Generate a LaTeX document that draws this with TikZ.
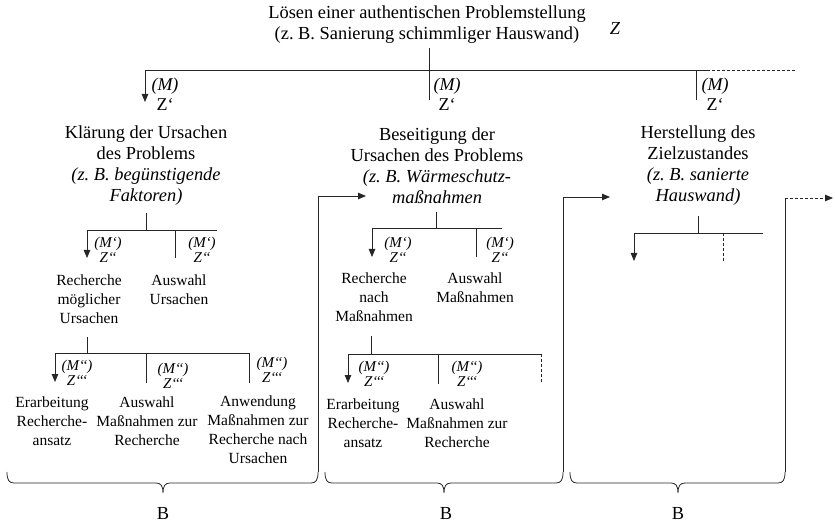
\documentclass[tikz,border=0pt]{standalone}
\usepackage{fontspec}
\setmainfont{Liberation Serif}
\usetikzlibrary{arrows.meta}
\newcommand\bigtxt{\fontsize{18.4bp}{21bp}\selectfont}
\newcommand\smalltxt{\fontsize{15.5bp}{19bp}\selectfont}
\newcommand\labtxt{\fontsize{15bp}{15.5bp}\selectfont\itshape}
\newcommand\toplabtxt{\fontsize{18bp}{20bp}\selectfont}

\begin{document}
\begin{tikzpicture}[x=1bp,y=-1bp,
  line/.style={draw=black!85, line width=0.8bp},
  arr/.style={line, -{Triangle[length=8bp,width=6.5bp]}},
  dotline/.style={line, dash pattern=on 3bp off 2bp},
  dotarr/.style={dotline, -{Triangle[length=8bp,width=6.5bp]}},
  hdtext/.style={font=\bigtxt, align=center, inner sep=0pt},
  itemtext/.style={font=\smalltxt, align=center, inner sep=0pt},
  lvlab/.style={font=\labtxt, align=center, inner sep=0pt},
  toplab/.style={font=\toplabtxt, align=center, inner sep=0pt},
]
\useasboundingbox (0,0) rectangle (835,525);

% ---------- top goal ----------
\node[hdtext] (goal) at (427,25) {Lösen einer authentischen Problemstellung\\(z.~B. Sanierung schimmliger Hauswand)};
\node[hdtext, font=\bigtxt\itshape] (zgoal) at (615,28) {Z};

\coordinate (g0) at (429,48);
\coordinate (g1) at (429,70);
\coordinate (gL) at (145,70);
\coordinate (gR) at (696,70);
\coordinate (gE) at (707,70);
\coordinate (gD) at (797,70);

\draw[line] (g0) -- (429,100);
\draw[line] (gL) -- (gE);
\draw[dotline] (gE) -- (gD);
\draw[arr] (gL) -- (145,102);
\draw[line] (gR) -- (696,100);

\node[toplab] (lt1) at (165,94) {\textit{(M)}\\Z‘};
\node[toplab] (lt2) at (447,94) {\textit{(M)}\\Z‘};
\node[toplab] (lt3) at (715,94) {\textit{(M)}\\Z‘};

% ---------- column headings ----------
\node[hdtext] (c1) at (146,166) {Klärung der Ursachen\\des Problems\\\textit{(z.~B. begünstigende}\\\textit{Faktoren)}};
\node[hdtext] (c2) at (437,166) {Beseitigung der\\Ursachen des Problems\\\textit{(z.~B. Wärmeschutz-}\\\textit{maßnahmen}};
\node[hdtext] (c3) at (698,166) {Herstellung des\\Zielzustandes\\\textit{(z.~B. sanierte}\\\textit{Hauswand)}};

% ---------- column 1, second level ----------
\coordinate (a0) at (146,213);
\coordinate (aL) at (87,230);
\coordinate (aM) at (175,230);
\coordinate (aR) at (217,230);
\draw[line] (a0) -- (146,230);
\draw[line] (aL) -- (aR);
\draw[arr] (aL) -- (87,258);
\draw[line] (aM) -- (175,258);
\node[lvlab] (al1) at (108,250) {(M‘)\\Z‘‘};
\node[lvlab] (al2) at (202,250) {(M‘)\\Z‘‘};
\node[itemtext] (a1) at (89,299) {Recherche\\möglicher\\Ursachen};
\node[itemtext] (a2) at (179,290) {Auswahl\\Ursachen};

% ---------- column 1, third level ----------
\coordinate (b0) at (87,337);
\coordinate (bL) at (55,353);
\coordinate (bM) at (146,353);
\coordinate (bR) at (249,353);
\draw[line] (b0) -- (87,353);
\draw[line] (bL) -- (bR);
\draw[arr] (bL) -- (55,382);
\draw[line] (bM) -- (146,383);
\draw[line] (bR) -- (249,383);
\node[lvlab] (bl1) at (77,373) {(M‘‘)\\Z‘‘‘};
\node[lvlab] (bl2) at (173,376) {(M‘‘)\\Z‘‘‘};
\node[lvlab] (bl3) at (272,370) {(M‘‘)\\Z‘‘‘};
\node[itemtext] (b1) at (52,421) {Erarbeitung\\Recherche-\\ansatz};
\node[itemtext] (b2) at (147,421) {Auswahl\\Maßnahmen zur\\Recherche};
\node[itemtext] (b3) at (258,430) {Anwendung\\Maßnahmen zur\\Recherche nach\\Ursachen};

% ---------- column 2, second level ----------
\coordinate (d0) at (436,212);
\coordinate (dL) at (372,228);
\coordinate (dM) at (476,228);
\coordinate (dR) at (502,228);
\draw[line] (d0) -- (436,228);
\draw[line] (dL) -- (dR);
\draw[arr] (dL) -- (372,257);
\draw[line] (dM) -- (476,257);
\node[lvlab] (dl1) at (398,250) {(M‘)\\Z‘‘};
\node[lvlab] (dl2) at (500,250) {(M‘)\\Z‘‘};
\node[itemtext] (d1) at (374,297) {Recherche\\nach\\Maßnahmen};
\node[itemtext] (d2) at (475,288) {Auswahl\\Maßnahmen};

% ---------- column 2, third level ----------
\coordinate (e0) at (371,336);
\coordinate (eL) at (348,354);
\coordinate (eM) at (438,354);
\coordinate (eR) at (541,354);
\draw[line] (e0) -- (371,354);
\draw[line] (eL) -- (eR);
\draw[arr] (eL) -- (348,383);
\draw[line] (eM) -- (438,384);
\draw[dotline] (eR) -- (541,383);
\node[lvlab] (el1) at (374,374) {(M‘‘)\\Z‘‘‘};
\node[lvlab] (el2) at (467,374) {(M‘‘)\\Z‘‘‘};
\node[itemtext] (e1) at (363,423) {Erarbeitung\\Recherche-\\ansatz};
\node[itemtext] (e2) at (457,423) {Auswahl\\Maßnahmen zur\\Recherche};

% ---------- column 3, second level ----------
\coordinate (f0) at (698,216);
\coordinate (fL) at (634,233);
\coordinate (fM) at (723,233);
\coordinate (fR) at (763,233);
\draw[line] (f0) -- (698,233);
\draw[line] (fL) -- (fR);
\draw[arr] (fL) -- (634,261);
\draw[dotline] (fM) -- (723,261);

% ---------- transitions between the columns ----------
\coordinate (p1) at (318,472);
\coordinate (p1a) at (366,196);
\coordinate (p2) at (563,472);
\coordinate (p2a) at (610,197);
\coordinate (p3) at (785,472);
\coordinate (p3a) at (833,198);
\draw[arr] (p1) |- (p1a);
\draw[arr] (p2) |- (p2a);
\draw[line] (p3) -- (785,198);
\draw[dotarr] (785,198) -- (p3a);

% ---------- braces ----------
\draw[line] (7,472) .. controls (7,480) and (9,483) .. (14,483) -- (156,483)
  .. controls (161,483) and (163,486) .. (163,493)
  .. controls (163,486) and (165,483) .. (170,483) -- (311,483)
  .. controls (316,483) and (318,480) .. (p1);
\draw[line] (325,472) .. controls (325,480) and (327,483) .. (332,483) -- (437,483)
  .. controls (442,483) and (444,486) .. (444,493)
  .. controls (444,486) and (446,483) .. (451,483) -- (556,483)
  .. controls (561,483) and (563,480) .. (p2);
\draw[line] (570,472) .. controls (570,480) and (572,483) .. (577,483) -- (671,483)
  .. controls (676,483) and (678,486) .. (678,493)
  .. controls (678,486) and (680,483) .. (685,483) -- (778,483)
  .. controls (783,483) and (785,480) .. (p3);

\node[hdtext] (B1) at (163,513) {B};
\node[hdtext] (B2) at (446,513) {B};
\node[hdtext] (B3) at (678,513) {B};
\end{tikzpicture}
\end{document}
